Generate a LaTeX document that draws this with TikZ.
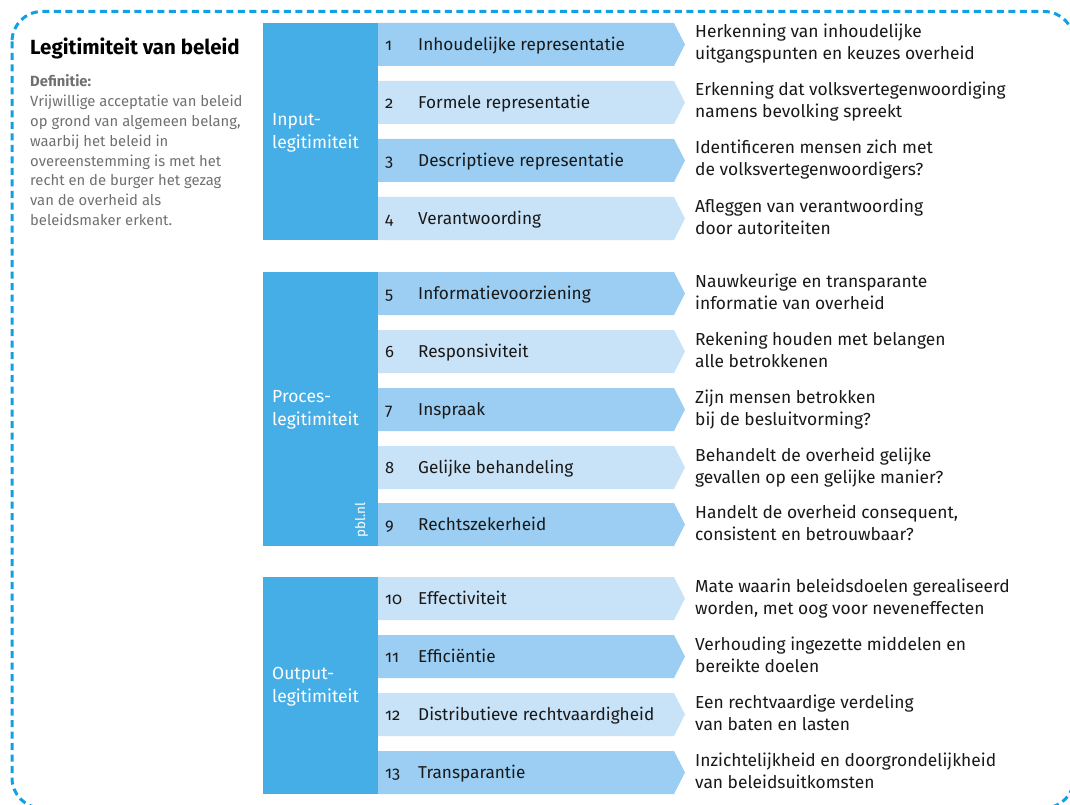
\documentclass[tikz,border=0pt]{standalone}
\usepackage{fontspec}
\setmainfont{Fira Sans}
\newfontfamily\numfont[Numbers=OldStyle]{Fira Sans}
\definecolor{blockblue}{RGB}{69,174,230}
\definecolor{darkrow}{RGB}{155,206,242}
\definecolor{lightrow}{RGB}{200,227,248}
\definecolor{dashblue}{RGB}{18,160,228}
\definecolor{defgray}{RGB}{112,112,112}
\definecolor{txt}{RGB}{25,25,25}
\tikzset{
  blockbox/.style={fill=blockblue},
  numstyle/.style={anchor=base west, inner sep=0pt, text=txt, font=\numfont\fontsize{16.5}{16.5}\selectfont},
  labelstyle/.style={anchor=base west, inner sep=0pt, text=txt, font=\fontsize{17.2}{17.2}\selectfont},
  descstyle/.style={anchor=base west, inner sep=0pt, text=txt, font=\fontsize{17.4}{17.4}\selectfont},
  blocklabel/.style={anchor=west, inner sep=0pt, text=white, align=left, font=\fontsize{17.5}{23}\selectfont},
  deftext/.style={anchor=base west, inner sep=0pt, text=defgray, font=\fontsize{14.8}{14.8}\selectfont},
}
\newcommand\legrow[7]{%
  \fill[#6] (378,#1) -- (674,#1) -- (685,#1+21.5) -- (674,#1+43) -- (378,#1+43) -- cycle;
  \node[numstyle] (n#7) at (385,#1+27.5) {#2};
  \node[labelstyle] (l#7) at (418,#1+27.5) {#3};
  \node[descstyle] (da#7) at (695,#1+15) {#4};
  \node[descstyle] (db#7) at (695,#1+37) {#5};
}
\begin{document}
\begin{tikzpicture}[x=1pt,y=-1pt]
\useasboundingbox (0,0) rectangle (1070,805);
\begin{scope}
  \clip (0,0) rectangle (1070,805);
  \draw[dashblue, line width=3, dash pattern=on 7 off 4.5, rounded corners=30] (12,11.5) rectangle (1074,808);
\end{scope}
% left column
\node[anchor=base west, inner sep=0pt, text=black, font=\bfseries\fontsize{20.5}{20.5}\selectfont] (title) at (30,55) {Legitimiteit van beleid};
\node[deftext, font=\bfseries\fontsize{14.8}{14.8}\selectfont] (def0) at (30,87) {Definitie:};
\node[deftext] (def1) at (30,107) {Vrijwillige acceptatie van beleid};
\node[deftext] (def2) at (30,126.7) {op grond van algemeen belang,};
\node[deftext] (def3) at (30,146.4) {waarbij het beleid in};
\node[deftext] (def4) at (30,166.1) {overeenstemming is met het};
\node[deftext] (def5) at (30,185.8) {recht en de burger het gezag};
\node[deftext] (def6) at (30,205.5) {van de overheid als};
\node[deftext] (def7) at (30,225.2) {beleidsmaker erkent.};
% blocks
\fill[blockbox] (263,23) rectangle (378,240);
\fill[blockbox] (263,272) rectangle (378,546);
\fill[blockbox] (263,577) rectangle (378,794);
\node[blocklabel] (inp) at (272,132.5) {Input-\\legitimiteit};
\node[blocklabel] (proc) at (272,409.5) {Proces-\\legitimiteit};
\node[blocklabel] (outp) at (272,686.5) {Output-\\legitimiteit};
\node[rotate=90, inner sep=0pt, text=white, font=\fontsize{13.5}{13.5}\selectfont] (pbl) at (361.5,520) {pbl.nl};
% rows
\legrow{23}{1}{Inhoudelijke representatie}{Herkenning van inhoudelijke}{uitgangspunten en keuzes overheid}{darkrow}{1}
\legrow{81}{2}{Formele representatie}{Erkenning dat volksvertegenwoordiging}{namens bevolking spreekt}{lightrow}{2}
\legrow{139}{3}{Descriptieve representatie}{Identificeren mensen zich met}{de volksvertegenwoordigers?}{darkrow}{3}
\legrow{197}{4}{Verantwoording}{Afleggen van verantwoording}{door autoriteiten}{lightrow}{4}
\legrow{272}{5}{Informatievoorziening}{Nauwkeurige en transparante}{informatie van overheid}{darkrow}{5}
\legrow{330}{6}{Responsiviteit}{Rekening houden met belangen}{alle betrokkenen}{lightrow}{6}
\legrow{388}{7}{Inspraak}{Zijn mensen betrokken}{bij de besluitvorming?}{darkrow}{7}
\legrow{446}{8}{Gelijke behandeling}{Behandelt de overheid gelijke}{gevallen op een gelijke manier?}{lightrow}{8}
\legrow{503}{9}{Rechtszekerheid}{Handelt de overheid consequent,}{consistent en betrouwbaar?}{darkrow}{9}
\legrow{577}{10}{Effectiviteit}{Mate waarin beleidsdoelen gerealiseerd}{worden, met oog voor neveneffecten}{lightrow}{10}
\legrow{635}{11}{Efficiëntie}{Verhouding ingezette middelen en}{bereikte doelen}{darkrow}{11}
\legrow{693}{12}{Distributieve rechtvaardigheid}{Een rechtvaardige verdeling}{van baten en lasten}{lightrow}{12}
\legrow{751}{13}{Transparantie}{Inzichtelijkheid en doorgrondelijkheid}{van beleidsuitkomsten}{darkrow}{13}
\end{tikzpicture}
\end{document}
